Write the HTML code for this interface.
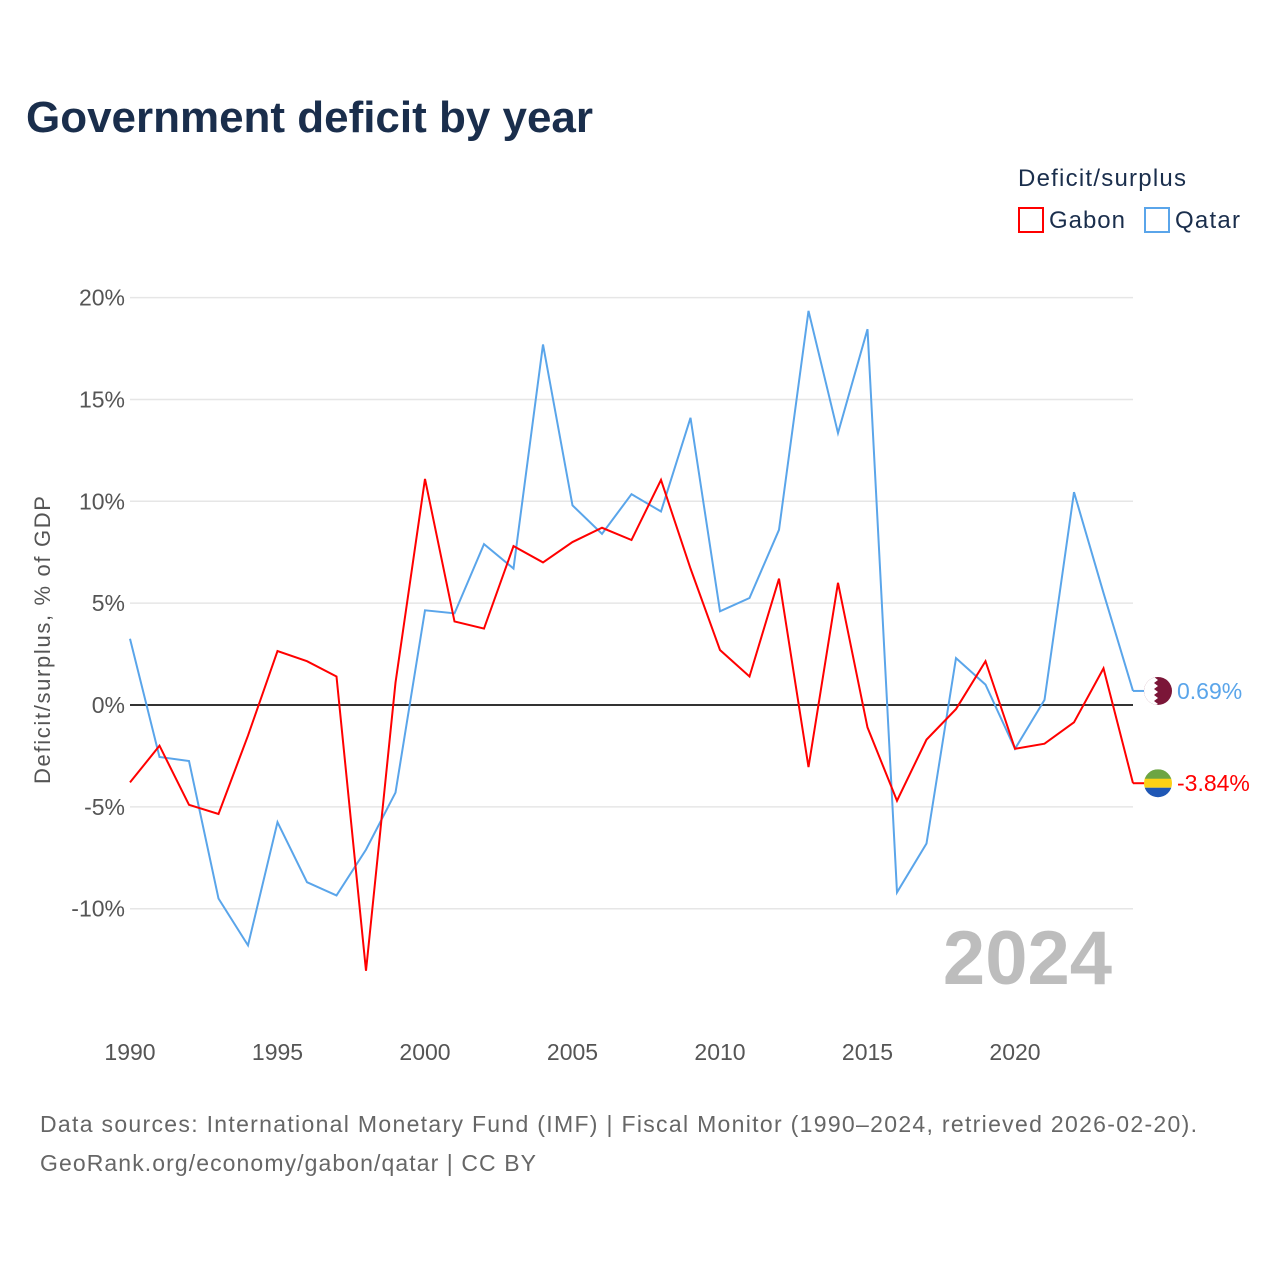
<!DOCTYPE html>
<html><head><meta charset="utf-8"><style>
body{margin:0;background:#fff;font-family:"Liberation Sans",sans-serif;}
svg text{font-family:"Liberation Sans",sans-serif;}
</style></head><body>
<svg id="chart" width="1280" height="1280" xmlns="http://www.w3.org/2000/svg">
<rect width="1280" height="1280" fill="#fff"/>
<text x="26" y="132" font-size="44" font-weight="bold" fill="#1a2e4c" textLength="567">Government deficit by year</text>
<text x="1018" y="186" font-size="24" fill="#1a2e4c" textLength="168">Deficit/surplus</text>
<g><rect x="1019" y="208" width="24" height="24" fill="none" stroke="#ff0000" stroke-width="2"/><text x="1049" y="228" font-size="24" fill="#1a2e4c" textLength="76">Gabon</text></g>
<g><rect x="1145" y="208" width="24" height="24" fill="none" stroke="#5aa5ea" stroke-width="2"/><text x="1175" y="228" font-size="24" fill="#1a2e4c" textLength="65">Qatar</text></g>
<text transform="translate(50,640) rotate(-90)" text-anchor="middle" font-size="22" fill="#555" textLength="288">Deficit/surplus, % of GDP</text>
<g id="grid"></g><g id="xt"></g>
<text x="1112" y="984" text-anchor="end" font-size="76" font-weight="bold" fill="#bdbdbd">2024</text>
<g id="lines"></g>
<text x="40" y="1132" font-size="23" fill="#666" textLength="1157">Data sources: International Monetary Fund (IMF) | Fiscal Monitor (1990–2024, retrieved 2026-02-20).</text>
<text x="40" y="1171" font-size="23" fill="#666" textLength="496">GeoRank.org/economy/gabon/qatar | CC BY</text>
</svg>
<script>
const years=[];for(let y=1990;y<=2024;y++)years.push(y);
const gabon=[-3.8,-2.0,-4.9,-5.35,-1.5,2.65,2.15,1.4,-13.05,1.1,11.1,4.1,3.75,7.8,7.0,8.0,8.7,8.1,11.05,6.7,2.7,1.4,6.2,-3.05,6.0,-1.1,-4.7,-1.7,-0.2,2.15,-2.15,-1.9,-0.85,1.8,-3.84];
const qatar=[3.25,-2.55,-2.75,-9.5,-11.8,-5.75,-8.7,-9.35,-7.1,-4.3,4.65,4.5,7.9,6.7,17.7,9.8,8.4,10.35,9.5,14.1,4.6,5.25,8.6,19.35,13.35,18.45,-9.2,-6.8,2.3,1.0,-2.15,0.25,10.45,5.5,0.69];
const yTicks=[20,15,10,5,0,-5,-10];
const xTicks=[1990,1995,2000,2005,2010,2015,2020];
const NS="http://www.w3.org/2000/svg";
const X=y=>130+(y-1990)*29.5, Y=v=>705-v*20.37;
function mk(t,a,p){const e=document.createElementNS(NS,t);for(const k in a)e.setAttribute(k,a[k]);p.appendChild(e);return e;}
const grid=document.getElementById('grid');
yTicks.forEach(v=>{
 const l=mk('line',{x1:130,x2:1133,y1:Y(v),y2:Y(v),stroke:v===0?'#333':'#e6e6e6','stroke-width':v===0?2:1.5},grid);
 
 
 const t=mk('text',{x:125,y:Y(v)+8,'text-anchor':'end','font-size':23,fill:'#555'},grid);t.textContent=v+'%';
 
 
});
const xt=document.getElementById('xt');
xTicks.forEach(v=>{const t=mk('text',{x:X(v),y:1060,'text-anchor':'middle','font-size':23,fill:'#555'},xt);t.textContent=v;
 
 });
const lines=document.getElementById('lines');
function series(d,c,name){
 const p=mk('polyline',{points:d.map((v,i)=>X(years[i])+','+Y(v)).join(' '),fill:'none',stroke:c,'stroke-width':2},lines);
 
 
}
series(qatar,'#5aa5ea','qatar-line');
series(gabon,'#ff0000','gabon-line');
const lq=qatar[qatar.length-1], lg=gabon[gabon.length-1];
const last=years[years.length-1];
mk('line',{x1:X(last),x2:1145,y1:Y(lq),y2:Y(lq),stroke:'#5aa5ea','stroke-width':2},lines);
mk('line',{x1:X(last),x2:1145,y1:Y(lg),y2:Y(lg),stroke:'#ff0000','stroke-width':2},lines);
const fq=mk('g',{},lines);


const qy=Y(lq);
mk('clipPath',{id:'qc'},fq);mk('circle',{cx:1158,cy:qy,r:14},document.getElementById('qc'));
mk('rect',{x:1144,y:qy-14,width:28,height:28,fill:'#7b1638','clip-path':'url(#qc)'},fq);
mk('path',{d:`M1144 ${qy-14} h10 l4 3 l-4 3 l4 3 l-4 3 l4 3 l-4 3 l4 3 l-4 3 l4 3 l-4 2 l-10 0 z`,fill:'#fff','clip-path':'url(#qc)'},fq);
const fg=mk('g',{},lines);


const gy=Y(lg);
mk('clipPath',{id:'gc'},fg);mk('circle',{cx:1158,cy:gy,r:14},document.getElementById('gc'));
mk('rect',{x:1144,y:gy-14,width:28,height:10,fill:'#6da543','clip-path':'url(#gc)'},fg);
mk('rect',{x:1144,y:gy-4.5,width:28,height:9,fill:'#fcd116','clip-path':'url(#gc)'},fg);
mk('rect',{x:1144,y:gy+4.5,width:28,height:10,fill:'#1f57b5','clip-path':'url(#gc)'},fg);
const tq=mk('text',{x:1177,y:qy+8,'font-size':23,fill:'#5aa5ea'},lines);tq.textContent=lq.toFixed(2)+'%';


const tg=mk('text',{x:1177,y:gy+8,'font-size':23,fill:'#ff0000'},lines);tg.textContent=lg.toFixed(2)+'%';


</script>
</body></html>
